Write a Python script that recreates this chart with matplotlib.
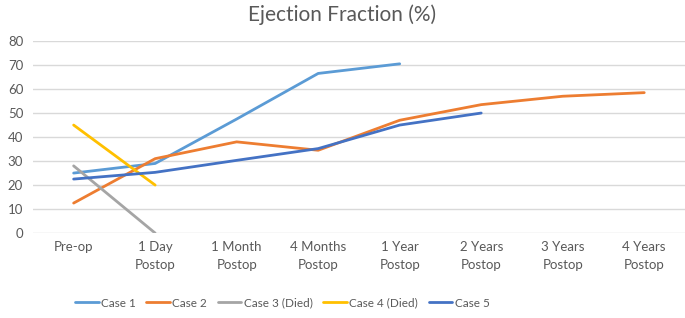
import matplotlib.pyplot as plt
import numpy as np

plt.rcParams['font.family'] = ['Lato', 'DejaVu Sans']

categories = ['Pre-op', '1 Day\nPostop', '1 Month\nPostop', '4 Months\nPostop',
              '1 Year\nPostop', '2 Years\nPostop', '3 Years\nPostop', '4 Years\nPostop']

case1 = [25, 29, 47.5, 66.5, 70.5]
case2 = [12.5, 31, 38, 34.5, 47, 53.5, 57, 58.5]
case3 = [28, 0]
case4 = [45, 20]
case5 = [22.5, 25.3, 30.3, 35.2, 45, 50]

series = [
    ('Case 1', case1, '#5B9BD5'),
    ('Case 2', case2, '#ED7D31'),
    ('Case 3 (Died)', case3, '#A5A5A5'),
    ('Case 4 (Died)', case4, '#FFC000'),
    ('Case 5', case5, '#4472C4'),
]

grey = '#595959'

fig = plt.figure(figsize=(6.85, 3.18), dpi=100)
ax = fig.add_axes([0.048, 0.267, 0.952, 0.604])

x = np.arange(len(categories))
for name, vals, color in series:
    ax.plot(x[:len(vals)], vals, color=color, lw=2.0, label=name,
            solid_capstyle='round')

ax.set_xlim(-0.5, len(categories) - 0.5)
ax.set_ylim(0, 80)
ax.set_yticks(range(0, 81, 10))
ax.set_xticks(x)
ax.set_xticklabels(categories, fontsize=9.5, color=grey, linespacing=1.6)
ax.tick_params(axis='y', labelsize=9.5, colors=grey, length=0, pad=7)
ax.tick_params(axis='x', length=0, pad=6)
ax.grid(axis='y', color='#D9D9D9', lw=1)
ax.set_axisbelow(True)
for s in ax.spines.values():
    s.set_visible(False)

fig.text(0.5, 0.955, 'Ejection Fraction (%)', ha='center', va='center',
         fontsize=15, color=grey)

fig.legend(loc='center', bbox_to_anchor=(0.412, 0.047), ncol=5, frameon=False,
           fontsize=8.5, labelcolor=grey, handlelength=2.0, handletextpad=0.2,
           columnspacing=0.9)

fig.savefig('out.png', dpi=100)
